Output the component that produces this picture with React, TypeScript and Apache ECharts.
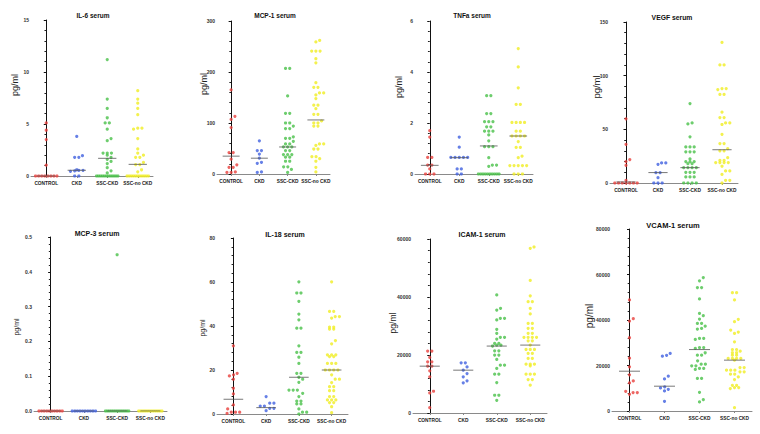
import React, { useEffect, useRef } from "react";
import * as echarts from "echarts";

const categories = ["CONTROL", "CKD", "SSC-CKD", "SSC-no CKD"];
const groupColors = ["#e8403c", "#4060e0", "#48c048", "#f0ee22"];

// IL-6 serum
const il6Control = [5.1, 4.4, 3.5, 1.05, 0, 0, 0, 0, 0, 0, 0, 0];
const il6Ckd = [3.8, 1.95, 1.8, 1.8, 0.6, 0.55, 0.55, 0.5, 0.45, 0, 0];
const il6SscCkd = [11.2, 7.4, 6.5, 5.6, 5.1, 5.1, 4.5, 3.6, 3.4, 2.2, 2.2, 2.2, 2.0, 1.8, 1.6, 1.4, 1.2, 0.8, 0.5, 0.3, 0, 0, 0, 0, 0, 0, 0, 0, 0, 0, 0, 0];
const il6SscNoCkd = [8.2, 7.4, 7.0, 6.5, 5.9, 4.6, 4.6, 4.5, 3.6, 2.6, 2.2, 2.0, 1.8, 1.8, 1.3, 1.1, 1.1, 0.6, 0.4, 0, 0, 0, 0, 0, 0, 0, 0, 0, 0, 0];
const il6Medians = [0, 0.55, 1.7, 1.12];

// MCP-1 serum
const mcp1Control = [165, 113, 107, 91, 42, 42, 29, 18, 13, 13, 4, 3, 3];
const mcp1Ckd = [65, 46, 46, 39, 31, 23, 21, 4, 3];
const mcp1SscCkd = [207, 207, 153, 119, 119, 100, 100, 94, 89, 89, 73, 70, 70, 64, 59, 59, 53, 53, 53, 46, 46, 38, 38, 38, 33, 33, 25, 25, 14, 14, 9, 3];
const mcp1SscNoCkd = [262, 259, 241, 241, 241, 226, 218, 179, 170, 170, 159, 159, 155, 148, 135, 135, 128, 117, 117, 104, 100, 100, 94, 94, 59, 59, 56, 49, 49, 34, 34, 30, 25, 13, 4];
const mcp1Medians = [35, 31, 53, 106];

// TNFa serum
const tnfControl = [1.7, 1.45, 0.65, 0.65, 0.35, 0.35, 0.2, 0, 0, 0];
const tnfCkd = [1.45, 1.05, 0.65, 0.65, 0.65, 0.65, 0.65, 0.2, 0.2, 0, 0];
const tnfSscCkd = [3.07, 3.07, 2.37, 2.37, 2.05, 2.05, 2.05, 1.85, 1.85, 1.68, 1.68, 1.68, 1.53, 1.3, 1.07, 1.07, 1.07, 0.64, 0.35, 0.35, 0.3, 0, 0, 0, 0, 0, 0, 0, 0, 0, 0];
const tnfSscNoCkd = [4.92, 4.2, 3.38, 2.73, 2.73, 2.02, 2.02, 2.02, 2.02, 1.68, 1.68, 1.49, 1.49, 1.49, 1.49, 1.27, 1.04, 1.04, 0.7, 0.64, 0.33, 0.33, 0.33, 0.33, 0.33, 0, 0, 0];
const tnfMedians = [0.34, 0.64, 1.1, 1.49];

// VEGF serum
const vegfControl = [59.8, 36, 21.8, 20, 16.5, 2.5, 0, 0, 0, 0, 0, 0, 0];
const vegfCkd = [18.7, 18.7, 17.4, 9.6, 9.6, 5, 0, 0, 0];
const vegfSscCkd = [74, 56, 55, 43, 33.6, 33.6, 33.6, 29, 29, 29, 22.4, 20, 20, 20, 18, 18, 14.3, 14.3, 14.3, 14.3, 10, 10, 10, 5.6, 5.6, 5.6, 0, 0, 0, 0];
const vegfSscNoCkd = [131, 110, 110, 88, 88, 87, 82.5, 82.5, 66, 61, 61, 56, 56, 54.5, 45.4, 36.7, 36.7, 32, 30, 30, 23.6, 21, 21, 19, 19, 19, 19, 15.6, 11.2, 11.2, 8, 2.5, 2.5, 0];
const vegfMedians = [1, 9.7, 14.3, 31];

// MCP-3 serum
const mcp3Control = [0, 0, 0, 0, 0, 0, 0, 0, 0, 0];
const mcp3Ckd = [0, 0, 0, 0, 0, 0, 0, 0, 0, 0];
const mcp3SscCkd = [0.449, 0, 0, 0, 0, 0, 0, 0, 0, 0, 0, 0, 0, 0];
const mcp3SscNoCkd = [0, 0, 0, 0, 0, 0, 0, 0, 0, 0, 0, 0];
const mcp3Medians = [0, 0, 0, 0];

// IL-18 serum
const il18Control = [31, 18.5, 17.8, 17.3, 15.8, 11.7, 9.1, 4.1, 2.3, 0.8, 0.8, 0.8, 0.3];
const il18Ckd = [7.9, 4.9, 4.9, 3.6, 3.6, 2.6, 2.6, 1.5];
const il18SscCkd = [60.1, 55, 55, 51.2, 45.4, 42.8, 39, 39, 31, 28, 28, 25.8, 23, 18.5, 18.5, 16.7, 15.8, 14.4, 10.9, 10.9, 10.9, 9.4, 7.9, 5.9, 5.9, 4.6, 4.6, 2.3, 0.8, 0.8, 0];
const il18SscNoCkd = [60.1, 46.6, 46.6, 44.3, 44.3, 43.6, 39.5, 39.5, 38.6, 38.6, 33.4, 31.9, 26.9, 26.9, 26.9, 26.1, 26.1, 23, 23, 23, 20, 20, 20, 20, 17.8, 15.8, 15.8, 14.3, 12.4, 12.4, 10.6, 10.6, 7.9, 7.9, 6.4, 6.4, 6.4, 5.2, 5.2, 3.3, 0.6];
const il18Medians = [6.7, 2.9, 16.7, 20];

// ICAM-1 serum
const icamControl = [21350, 21350, 19150, 17650, 17650, 16150, 16150, 14540, 12460, 7500, 6900, 1850];
const icamCkd = [17300, 17300, 15900, 14770, 13600, 12460, 11080, 10400];
const icamSscCkd = [40700, 36100, 35500, 32650, 32650, 32100, 28850, 27460, 26080, 26080, 25500, 24000, 24000, 23400, 23400, 23100, 21460, 21460, 19960, 19960, 18460, 16500, 16500, 15350, 13380, 13380, 10500, 6120, 6120, 4380];
const icamSscNoCkd = [57240, 56780, 45700, 40400, 38400, 38400, 36100, 34150, 30900, 30900, 29200, 29200, 27460, 27460, 26080, 26080, 26080, 26080, 24900, 24900, 23420, 21900, 21900, 21900, 20540, 20540, 18800, 18800, 16850, 16850, 16850, 16270, 13380, 13380, 13380, 11540, 11540, 9580];
const icamMedians = [16150, 14770, 23080, 23420];

// VCAM-1 serum
const vcamControl = [48800, 40570, 39540, 32200, 23200, 19400, 15900, 13200, 12350, 8670, 8100, 8100, 7350];
const vcamCkd = [25300, 24500, 24100, 15300, 14100, 10600, 10150, 9550, 8820, 4260];
const vcamSscCkd = [58650, 57200, 54240, 54240, 49250, 42900, 41900, 40400, 38500, 38500, 37300, 36300, 36000, 31900, 31900, 31450, 27900, 27900, 27500, 25600, 24550, 24550, 22050, 20600, 20600, 19850, 19850, 18700, 18700, 18250, 14300, 14300, 8230, 5000, 3970];
const vcamSscNoCkd = [52000, 52000, 48800, 40300, 39250, 35570, 34700, 34100, 30400, 27000, 27000, 26300, 25600, 25600, 24550, 24550, 23100, 23100, 23100, 23100, 22350, 19100, 19100, 17950, 17950, 17950, 17200, 17200, 16170, 16170, 15000, 13800, 11300, 11300, 10300, 10300, 9850, 1470];
const vcamMedians = [17500, 10900, 27000, 22350];

const titles = ["IL-6 serum", "MCP-1 serum", "TNFa serum", "VEGF serum", "MCP-3 serum", "IL-18 serum", "ICAM-1 serum", "VCAM-1 serum"];
const yMax = [15, 300, 6, 150, 0.5, 80, 60000, 80000];
const yInterval = [5, 100, 2, 50, 0.1, 20, 20000, 20000];
const groupsData = [
  [il6Control, il6Ckd, il6SscCkd, il6SscNoCkd],
  [mcp1Control, mcp1Ckd, mcp1SscCkd, mcp1SscNoCkd],
  [tnfControl, tnfCkd, tnfSscCkd, tnfSscNoCkd],
  [vegfControl, vegfCkd, vegfSscCkd, vegfSscNoCkd],
  [mcp3Control, mcp3Ckd, mcp3SscCkd, mcp3SscNoCkd],
  [il18Control, il18Ckd, il18SscCkd, il18SscNoCkd],
  [icamControl, icamCkd, icamSscCkd, icamSscNoCkd],
  [vcamControl, vcamCkd, vcamSscCkd, vcamSscNoCkd],
];
const mediansData = [il6Medians, mcp1Medians, tnfMedians, vegfMedians, mcp3Medians, il18Medians, icamMedians, vcamMedians];

// layout (pixels)
const boxes = [
  { left: 31, top: 20, width: 122, height: 156 },
  { left: 217, top: 21, width: 113, height: 153 },
  { left: 415, top: 21, width: 118, height: 153 },
  { left: 610, top: 22, width: 128, height: 161 },
  { left: 34, top: 237, width: 133, height: 174 },
  { left: 217, top: 238, width: 131, height: 176 },
  { left: 413, top: 239, width: 134, height: 174 },
  { left: 612, top: 229, width: 140, height: 182 },
];
const titlePos = [[93, 15], [275, 15], [472, 15], [672, 17], [97, 233], [285, 234], [482, 234], [673, 225]];
const titleSize = [6.5, 6.5, 6.5, 6.8, 7, 7, 7, 7.5];
const namePos = [[15, 85], [204, 84], [399, 87], [596, 87], [16, 327], [202, 328], [393, 323], [589, 316]];
const nameSize = [9, 9, 9, 9.5, 7, 7, 8.5, 10];

const SYM = 3.2;

function swarm(values: number[], max: number, h: number, band: number): [number, number][] {
  const sorted = [...values].sort((a, b) => a - b);
  const placed: { x: number; y: number }[] = [];
  const out: [number, number][] = [];
  let i = 0;
  while (i < sorted.length) {
    const y0 = (sorted[i] / max) * h;
    let j = i;
    while (j < sorted.length && (sorted[j] / max) * h - y0 < 1.2) j++;
    const n = j - i;
    const sp = n > 1 ? Math.min(SYM + 1, (band * 0.7) / (n - 1)) : 0;
    const step = SYM + 0.6;
    const shifts = [0, step / 2, -step / 2, step, -step, 1.5 * step, -1.5 * step, 2 * step, -2 * step];
    let chosen = 0;
    for (const c of shifts) {
      let ok = true;
      for (let k = 0; k < n && ok; k++) {
        const x = (k - (n - 1) / 2) * sp + c;
        const y = (sorted[i + k] / max) * h;
        for (const p of placed) {
          if (Math.abs(p.x - x) < SYM + 0.3 && Math.abs(p.y - y) < SYM + 0.3) {
            ok = false;
            break;
          }
        }
      }
      if (ok) {
        chosen = c;
        break;
      }
    }
    const batch: { x: number; y: number }[] = [];
    for (let k = 0; k < n; k++) {
      const x = (k - (n - 1) / 2) * sp + chosen;
      const y = (sorted[i + k] / max) * h;
      batch.push({ x, y });
      out.push([x / band, sorted[i + k]]);
    }
    placed.push(...batch);
    i = j;
  }
  return out;
}

const FONT = "Liberation Sans, Arial, sans-serif";

export default function App() {
  const ref = useRef<HTMLDivElement>(null);
  useEffect(() => {
    if (!ref.current) return;
    const chart = echarts.init(ref.current, undefined, { renderer: "svg" });
    const grid: any[] = [];
    const xAxis: any[] = [];
    const yAxis: any[] = [];
    const series: any[] = [];
    const graphic: any[] = [];
    boxes.forEach((b, p) => {
      grid.push({ left: b.left, top: b.top, width: b.width, height: b.height, containLabel: false });
      xAxis.push({
        type: "category",
        gridIndex: p,
        data: categories,
        position: "bottom",
        axisLine: { lineStyle: { color: "#8a8a8a", width: 1 } },
        axisTick: { show: true, alignWithLabel: true, length: 2, lineStyle: { color: "#888" } },
        axisLabel: { fontSize: 4.8, fontWeight: "bold", color: "#222", margin: 5, fontFamily: FONT, interval: 0 },
        splitLine: { show: false },
      });
      xAxis.push({ type: "value", gridIndex: p, min: -0.5, max: 3.5, show: false });
      const isFloat = yInterval[p] < 1;
      yAxis.push({
        type: "value",
        gridIndex: p,
        min: 0,
        max: yMax[p],
        interval: yInterval[p],
        axisLine: { show: true, lineStyle: { color: "#111", width: 1 } },
        axisTick: { show: true, length: 2.5, lineStyle: { color: "#111" } },
        minorTick: { show: true, splitNumber: 5, length: 1.8, lineStyle: { color: "#222" } },
        splitLine: { show: false },
        minorSplitLine: { show: false },
        axisLabel: {
          fontSize: 5,
          fontWeight: "bold",
          color: "#333",
          margin: 2,
          fontFamily: FONT,
          formatter: (v: number) => (isFloat ? v.toFixed(1) : String(Math.round(v))),
        },
      });
      const band = b.width / 4;
      groupsData[p].forEach((vals, g) => {
        const pts = swarm(vals, yMax[p], b.height, band).map(([off, v]) => [g + off, v]);
        series.push({
          type: "scatter",
          xAxisIndex: 2 * p + 1,
          yAxisIndex: p,
          data: pts,
          symbol: "circle",
          symbolSize: SYM,
          itemStyle: { color: groupColors[g] },
          clip: false,
          silent: true,
          z: 3,
        });
      });
      mediansData[p].forEach((m, g) => {
        series.push({
          type: "line",
          xAxisIndex: 2 * p + 1,
          yAxisIndex: p,
          data: [
            [g - 0.3, m],
            [g + 0.3, m],
          ],
          symbol: "none",
          lineStyle: { color: "#555", width: 0.8 },
          silent: true,
          z: 4,
        });
      });
      graphic.push({
        type: "text",
        x: titlePos[p][0],
        y: titlePos[p][1],
        style: {
          text: titles[p],
          fontSize: titleSize[p],
          fontWeight: "bold",
          fontFamily: FONT,
          fill: "#111",
          textAlign: "center",
          textVerticalAlign: "middle",
        },
      });
      graphic.push({
        type: "text",
        x: namePos[p][0],
        y: namePos[p][1],
        rotation: Math.PI / 2,
        style: {
          text: "pg/ml",
          fontSize: nameSize[p],
          fontFamily: FONT,
          fill: "#222",
          textAlign: "center",
          textVerticalAlign: "middle",
        },
      });
    });
    chart.setOption({
      animation: false,
      backgroundColor: "#ffffff",
      grid,
      xAxis,
      yAxis,
      series,
      graphic,
    });
    return () => chart.dispose();
  }, []);
  return <div ref={ref} style={{ position: "fixed", left: 0, top: 0, width: 760, height: 434 }} />;
}
